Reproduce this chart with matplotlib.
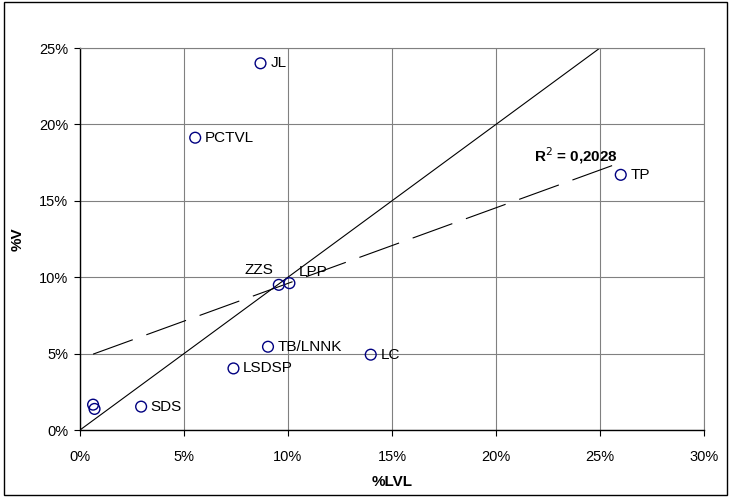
import matplotlib.pyplot as plt
import matplotlib.ticker as mticker
import numpy as np

plt.rcParams['font.family'] = ['Liberation Sans', 'DejaVu Sans']

# data (fractions)
parties = ["JL", "PCTVL", "TP", "ZZS", "LPP", "TB/LNNK", "LC", "LSDSP", "SDS", "", ""]
lvl = [0.0868, 0.0554, 0.2600, 0.0956, 0.1007, 0.0904, 0.1398, 0.0738, 0.0294, 0.0063, 0.0070]
v = [0.2400, 0.1913, 0.1670, 0.0950, 0.0961, 0.0545, 0.0493, 0.0403, 0.0153, 0.0166, 0.0138]
r2_text = "R$^2$ = 0,2028"

fig = plt.figure(figsize=(7.31, 4.97), dpi=100)
ax = fig.add_axes([0.1094, 0.1348, 0.8536, 0.7686])

ax.set_xlim(0, 0.30)
ax.set_ylim(0, 0.25)
ax.xaxis.set_major_locator(mticker.MultipleLocator(0.05))
ax.yaxis.set_major_locator(mticker.MultipleLocator(0.05))
ax.xaxis.set_major_formatter(mticker.PercentFormatter(1.0, decimals=0))
ax.yaxis.set_major_formatter(mticker.PercentFormatter(1.0, decimals=0))
ax.grid(True, color="#808080", linewidth=0.8)
ax.set_axisbelow(True)
ax.tick_params(direction="out", length=4.5, width=0.8, labelsize=10.5, pad=4)
ax.tick_params(axis="x", pad=10)
for s in ("top", "right"):
    ax.spines[s].set_color("#808080")
    ax.spines[s].set_linewidth(0.8)
for s in ("left", "bottom"):
    ax.spines[s].set_color("black")
    ax.spines[s].set_linewidth(1.0)

# 45-degree reference line
ax.plot([0, 0.25], [0, 0.25], color="black", linewidth=0.8, zorder=2)

# linear trendline
x = np.array(lvl)
y = np.array(v)
k, b = np.polyfit(x, y, 1)
xs = np.array([x.min(), x.max()])
ax.plot(xs, k * xs + b, color="black", linewidth=0.8, dashes=(38, 13), zorder=2)

ax.scatter(lvl, v, s=60, facecolors="none", edgecolors="#000080", linewidths=1.0, zorder=3)

for name, px, py in zip(parties, lvl, v):
    if not name:
        continue
    if name == "ZZS":
        ax.annotate(name, (px, py), xytext=(-14, 11), textcoords="offset points",
                    fontsize=11, va="center", ha="center")
    elif name == "LPP":
        ax.annotate(name, (px, py), xytext=(7, 8), textcoords="offset points",
                    fontsize=11, va="center", ha="left")
    else:
        ax.annotate(name, (px, py), xytext=(7, 0), textcoords="offset points",
                    fontsize=11, va="center", ha="left")

ax.text(0.2185, 0.1795, r2_text, fontsize=11, fontweight="bold", va="center", ha="left")

ax.set_xlabel("%LVL", fontsize=11, fontweight="bold", labelpad=8)
ax.set_ylabel("%V", fontsize=11, fontweight="bold", labelpad=10)

fig.patches.append(plt.Rectangle((0.005, 0.004), 0.99, 0.992, transform=fig.transFigure,
                                 fill=False, edgecolor="black", linewidth=1.0))

fig.savefig("out.png", dpi=100)
